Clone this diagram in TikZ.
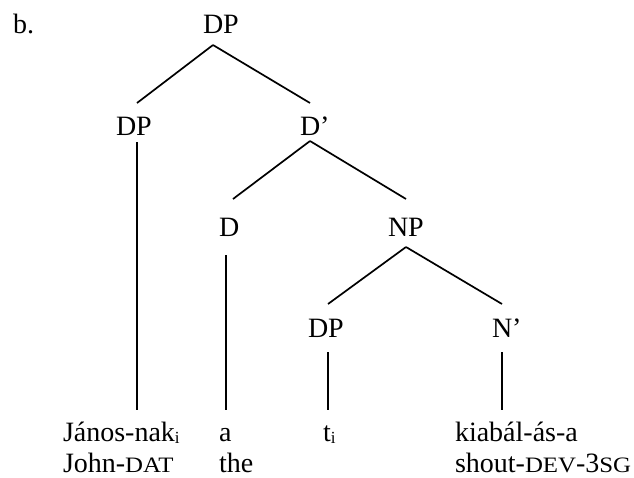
\documentclass[tikz,border=0pt]{standalone}
\usepackage{fontspec}
\usepackage{graphicx}
\setmainfont{Liberation Serif}
% faked small capitals and lowered index letters
\newcommand\smcaps[1]{\scalebox{1.13}[1]{\fontsize{22}{22}\selectfont #1}}
\newcommand\idx[1]{\raisebox{-2.5pt}{\fontsize{17}{17}\selectfont #1}}
\begin{document}
\begin{tikzpicture}[x=1pt,y=-1pt,
  lab/.style={anchor=base west, inner sep=0pt, outer sep=0pt,
    font=\fontsize{28}{30}\selectfont},
  branch/.style={line width=1.7pt, line cap=butt}]
\useasboundingbox (0,0) rectangle (634,477);

% category labels
\node[lab] (ex)   at (13,33)   {b.};
\node[lab] (dp0)  at (203,33)  {DP};
\node[lab] (dp1)  at (116,135) {DP};
\node[lab] (dbar) at (300,135) {D’};
\node[lab] (d)    at (219,236) {D};
\node[lab] (np)   at (388,236) {NP};
\node[lab] (dp2)  at (308,337) {DP};
\node[lab] (nbar) at (492,337) {N’};

% words and glosses
\node[lab] (w1) at (63,441)  {János-nak\idx{i}};
\node[lab] (g1) at (63,472)  {John-\smcaps{DAT}};
\node[lab] (w2) at (219,441) {a};
\node[lab] (g2) at (219,472) {the};
\node[lab] (w3) at (323,441) {t\idx{i}};
\node[lab] (w4) at (455,441) {kiabál-ás-a};
\node[lab] (g4) at (455,472) {shout-\smcaps{DEV}-3\smcaps{SG}};

% branches
\draw[branch] ([shift={(10pt,-12pt)}]dp0.base west) -- ([shift={(21pt,32pt)}]dp1.base west);
\draw[branch] ([shift={(10pt,-12pt)}]dp0.base west) -- ([shift={(10pt,32pt)}]dbar.base west);
\draw[branch] ([shift={(21pt,-7pt)}]dp1.base west) -- ([shift={(74pt,31pt)}]w1.base west);
\draw[branch] ([shift={(10pt,-6pt)}]dbar.base west) -- ([shift={(14pt,37pt)}]d.base west);
\draw[branch] ([shift={(10pt,-6pt)}]dbar.base west) -- ([shift={(18pt,37pt)}]np.base west);
\draw[branch] ([shift={(7pt,-19pt)}]d.base west) -- ([shift={(7pt,31pt)}]w2.base west);
\draw[branch] ([shift={(18pt,-11pt)}]np.base west) -- ([shift={(20pt,33pt)}]dp2.base west);
\draw[branch] ([shift={(18pt,-11pt)}]np.base west) -- ([shift={(10pt,33pt)}]nbar.base west);
\draw[branch] ([shift={(20pt,-15pt)}]dp2.base west) -- ([shift={(5pt,31pt)}]w3.base west);
\draw[branch] ([shift={(10pt,-15pt)}]nbar.base west) -- ([shift={(47pt,31pt)}]w4.base west);
\end{tikzpicture}
\end{document}
